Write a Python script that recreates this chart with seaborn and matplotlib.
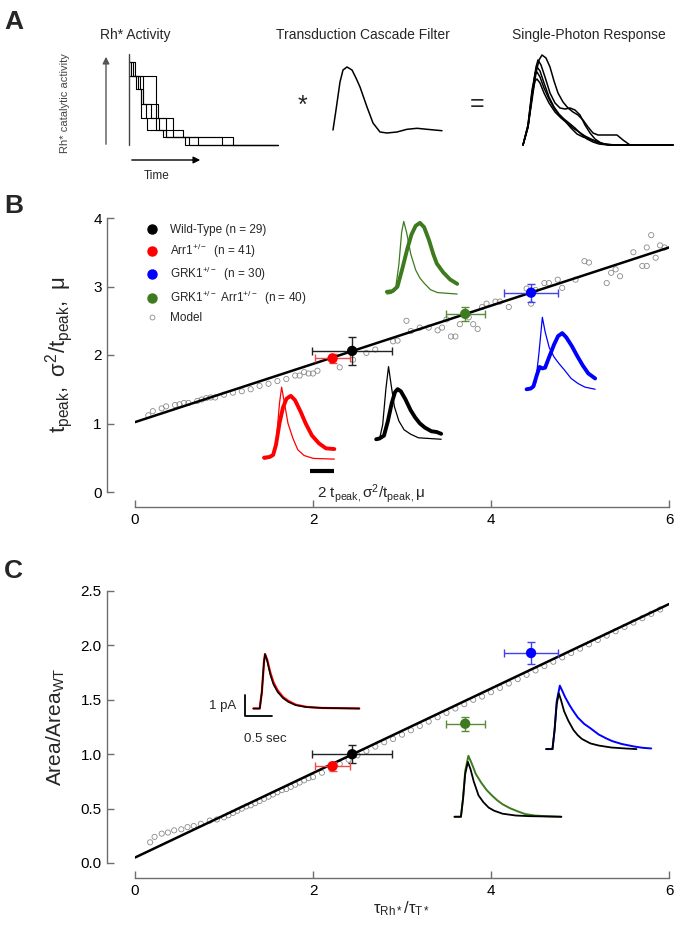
import matplotlib
matplotlib.use('Agg')
import matplotlib.pyplot as plt
from matplotlib.lines import Line2D
import seaborn as sns

sns.set_style('ticks')
plt.rcParams['font.family'] = ['Liberation Sans', 'DejaVu Sans']
plt.rcParams['mathtext.fontset'] = 'custom'
plt.rcParams['mathtext.rm'] = 'Liberation Sans'
plt.rcParams['mathtext.it'] = 'Liberation Sans:italic'
plt.rcParams['mathtext.bf'] = 'Liberation Sans:bold'

# ---------------- data ----------------
group_labels = ['Wild-Type (n = 29)', r'Arr1$^{+/-}$  (n = 41)',
                r'GRK1$^{+/-}$  (n = 30)', r'GRK1$^{+/-}$ Arr1$^{+/-}$  (n = 40)']
group_colors = ['#000000', '#ff0000', '#0000ff', '#3e7a1e']
errbar_colors = ['#222222', '#ee4a4a', '#4040ee', '#5a8a3a']

tau_ratio = [2.44, 2.22, 4.45, 3.71]
tau_ratio_err = [0.45, 0.20, 0.30, 0.22]
tpeak_ratio = [2.06, 1.95, 2.91, 2.60]
tpeak_ratio_err = [0.20, 0.07, 0.13, 0.10]
area_ratio = [1.00, 0.89, 1.93, 1.28]
area_ratio_err = [0.08, 0.04, 0.10, 0.065]

fit_x = [0, 6]
fit_tpeak = [1.02, 3.57]
fit_area = [0.05, 2.38]

model_x_b = [0.15, 0.2, 0.3, 0.35, 0.45, 0.5, 0.55, 0.6, 0.7, 0.75, 0.8, 0.85, 0.9,
             1.0, 1.1, 1.2, 1.3, 1.4, 1.5, 1.6, 1.7, 1.8, 1.85, 1.9, 1.95, 2.0, 2.05,
             2.3, 2.45, 2.6, 2.7, 2.9, 2.95, 3.05, 3.1, 3.2, 3.3, 3.4, 3.45, 3.5, 3.55,
             3.6, 3.65, 3.75, 3.8, 3.85, 3.9, 3.95, 4.05, 4.1, 4.2, 4.4, 4.45, 4.5, 4.6,
             4.65, 4.75, 4.8, 4.95, 5.05, 5.1, 5.3, 5.35, 5.4, 5.45, 5.6, 5.7, 5.75,
             5.75, 5.8, 5.85, 5.9, 5.95]
model_tpeak = [1.12, 1.18, 1.22, 1.25, 1.27, 1.28, 1.30, 1.30, 1.33, 1.35, 1.37, 1.38, 1.38,
               1.42, 1.45, 1.47, 1.50, 1.55, 1.58, 1.62, 1.65, 1.70, 1.70, 1.75, 1.73, 1.73, 1.77,
               1.82, 1.93, 2.03, 2.08, 2.20, 2.21, 2.50, 2.35, 2.40, 2.40, 2.36, 2.40, 2.52, 2.27,
               2.27, 2.45, 2.55, 2.45, 2.38, 2.70, 2.75, 2.78, 2.78, 2.70, 2.97, 2.75, 2.95, 3.05,
               3.05, 3.10, 2.98, 3.10, 3.37, 3.35, 3.05, 3.20, 3.25, 3.15, 3.50, 3.30, 3.57,
               3.30, 3.75, 3.42, 3.60, 3.57]

model_x_c = [0.17, 0.22, 0.30, 0.37, 0.44, 0.52, 0.59, 0.66, 0.74, 0.84, 0.92,
             1.0, 1.05, 1.1, 1.15, 1.2, 1.25, 1.3, 1.35, 1.4, 1.45, 1.5, 1.55, 1.6, 1.65,
             1.7, 1.75, 1.8, 1.85, 1.9, 1.95, 2.0, 2.1, 2.2, 2.3, 2.4, 2.5, 2.6, 2.7, 2.8,
             2.9, 3.0, 3.1, 3.2, 3.3, 3.4, 3.5, 3.6, 3.7, 3.8, 3.9, 4.0, 4.1, 4.2, 4.3,
             4.4, 4.5, 4.6, 4.7, 4.8, 4.9, 5.0, 5.1, 5.2, 5.3, 5.4, 5.5, 5.6, 5.7, 5.8, 5.9]
model_area = [0.19, 0.24, 0.27, 0.28, 0.30, 0.31, 0.33, 0.34, 0.36, 0.39, 0.40,
              0.42, 0.44, 0.46, 0.48, 0.50, 0.52, 0.53, 0.55, 0.57, 0.59, 0.61, 0.63, 0.65, 0.67,
              0.68, 0.70, 0.72, 0.74, 0.76, 0.78, 0.79, 0.83, 0.87, 0.91, 0.95, 0.99, 1.03, 1.07, 1.11,
              1.14, 1.18, 1.22, 1.26, 1.30, 1.34, 1.38, 1.42, 1.46, 1.50, 1.53, 1.57, 1.61, 1.65, 1.69,
              1.73, 1.77, 1.81, 1.85, 1.89, 1.93, 1.97, 2.01, 2.05, 2.09, 2.13, 2.17, 2.21, 2.25, 2.29, 2.33]

# panel B inset traces (time as fraction of window, amplitude relative to fast peak)
wt_thin_t = [0, 0.05, 0.1, 0.15, 0.19, 0.23, 0.28, 0.35, 0.43, 0.53, 0.65, 1.0]
wt_thin = [0, 0.0, 0.2, 0.7, 1.0, 0.75, 0.45, 0.25, 0.13, 0.07, 0.02, 0.0]
wt_thick_t = [0, 0.05, 0.12, 0.18, 0.24, 0.29, 0.33, 0.38, 0.45, 0.53, 0.6, 0.67, 0.75, 0.85, 0.93, 1.0]
wt_thick = [0, 0.01, 0.05, 0.25, 0.5, 0.65, 0.69, 0.66, 0.55, 0.4, 0.3, 0.22, 0.16, 0.11, 0.10, 0.075]

arr_thin_t = [0, 0.06, 0.13, 0.17, 0.22, 0.25, 0.29, 0.34, 0.41, 0.48, 0.57, 0.70, 1.0]
arr_thin = [0, 0.01, 0.04, 0.21, 0.78, 1.0, 0.78, 0.5, 0.29, 0.13, 0.05, 0.01, 0.0]
arr_thick_t = [0, 0.08, 0.13, 0.17, 0.22, 0.27, 0.32, 0.38, 0.44, 0.52, 0.59, 0.68, 0.78, 0.88, 1.0]
arr_thick = [0.02, 0.03, 0.06, 0.2, 0.5, 0.72, 0.84, 0.88, 0.82, 0.66, 0.5, 0.33, 0.22, 0.15, 0.14]

grk_thin_t = [0, 0.08, 0.13, 0.18, 0.23, 0.27, 0.33, 0.4, 0.47, 0.55, 0.65, 0.75, 0.85, 1.0]
grk_thin = [0, 0.01, 0.08, 0.5, 1.0, 0.8, 0.58, 0.45, 0.36, 0.27, 0.15, 0.08, 0.03, 0.0]
grk_thick_t = [0, 0.06, 0.1, 0.15, 0.19, 0.23, 0.27, 0.33, 0.4, 0.46, 0.52, 0.58, 0.66, 0.74, 0.82, 0.9, 1.0]
grk_thick = [0, 0.01, 0.04, 0.2, 0.31, 0.29, 0.3, 0.45, 0.62, 0.74, 0.78, 0.72, 0.6, 0.46, 0.33, 0.22, 0.15]

dbl_thin_t = [0, 0.06, 0.12, 0.17, 0.21, 0.24, 0.28, 0.34, 0.41, 0.47, 0.53, 0.62, 0.72, 1.0]
dbl_thin = [0, 0.01, 0.05, 0.4, 0.85, 1.0, 0.85, 0.55, 0.33, 0.22, 0.15, 0.06, 0.02, 0.0]
dbl_thick_t = [0, 0.08, 0.15, 0.22, 0.29, 0.35, 0.41, 0.47, 0.53, 0.6, 0.66, 0.71, 0.8, 0.9, 1.0]
dbl_thick = [0.03, 0.04, 0.1, 0.35, 0.62, 0.82, 0.94, 0.98, 0.92, 0.74, 0.55, 0.42, 0.3, 0.2, 0.14]

# panel C inset traces (mean responses, amplitude relative to larger peak)
c_wt_a_t = [0, 0.06, 0.08, 0.1, 0.11, 0.13, 0.16, 0.19, 0.23, 0.28, 0.33, 0.4, 0.5, 0.65, 1.0]
c_wt_a = [0, 0.0, 0.3, 0.85, 1.0, 0.88, 0.62, 0.44, 0.3, 0.19, 0.12, 0.06, 0.025, 0.01, 0.0]
c_arr_t = [0, 0.06, 0.08, 0.1, 0.11, 0.13, 0.16, 0.19, 0.23, 0.28, 0.33, 0.4, 0.5, 0.65, 1.0]
c_arr = [0, 0.0, 0.3, 0.85, 1.0, 0.9, 0.66, 0.48, 0.33, 0.21, 0.14, 0.07, 0.03, 0.01, 0.0]
c_wt_b_t = [0, 0.06, 0.08, 0.1, 0.12, 0.14, 0.17, 0.21, 0.26, 0.3, 0.34, 0.42, 0.5, 0.62, 0.75, 0.86]
c_wt_b = [0, 0.0, 0.3, 0.7, 0.88, 0.78, 0.6, 0.45, 0.3, 0.22, 0.16, 0.09, 0.056, 0.025, 0.01, 0.0]
c_grk_t = [0, 0.06, 0.08, 0.1, 0.13, 0.15, 0.18, 0.22, 0.25, 0.3, 0.36, 0.42, 0.5, 0.57, 0.63, 0.72, 0.84, 0.92, 1.0]
c_grk = [0, 0.0, 0.3, 0.75, 1.0, 0.93, 0.82, 0.7, 0.62, 0.5, 0.4, 0.33, 0.23, 0.17, 0.125, 0.08, 0.04, 0.02, 0.01]
c_wt_c_t = [0, 0.06, 0.08, 0.1, 0.125, 0.15, 0.18, 0.225, 0.27, 0.32, 0.37, 0.45, 0.575, 0.7, 1.0]
c_wt_c = [0, 0.0, 0.3, 0.7, 0.9, 0.78, 0.58, 0.35, 0.24, 0.15, 0.1, 0.05, 0.02, 0.01, 0.0]
c_dbl_t = [0, 0.06, 0.08, 0.1, 0.13, 0.16, 0.2, 0.25, 0.3, 0.35, 0.4, 0.45, 0.52, 0.59, 0.66, 0.75, 0.85, 1.0]
c_dbl = [0, 0.0, 0.3, 0.75, 1.0, 0.88, 0.7, 0.56, 0.44, 0.35, 0.27, 0.205, 0.14, 0.09, 0.045, 0.02, 0.01, 0.0]

# panel A: Rh* activity step traces (time, activity level)
rh_t1 = [0, 4, 14, 17, 27, 44, 104, 149]
rh_a1 = [1.0, 0.83, 0.5, 0.33, 0.18, 0.1, 0, 0]
rh_t2 = [0, 2, 11, 14, 22, 30, 37, 56, 149]
rh_a2 = [1.0, 0.83, 0.68, 0.5, 0.33, 0.18, 0.1, 0, 0]
rh_t3 = [0, 7, 12, 18, 34, 93, 149]
rh_a3 = [0.83, 0.68, 0.33, 0.18, 0.1, 0, 0]
rh_t4 = [0, 6, 27, 29, 44, 54, 60, 149]
rh_a4 = [1.0, 0.83, 0.5, 0.33, 0.18, 0.1, 0, 0]
rh_t5 = [0, 9, 12, 27, 37, 69, 149]
rh_a5 = [0.83, 0.68, 0.5, 0.33, 0.1, 0, 0]

filter_t = [0, 3, 7, 10, 14, 19, 23, 27, 34, 40, 47, 54, 64, 74, 84, 94, 109]
filter_y = [0, 20, 48, 60, 63, 60, 52, 43, 23, 7, -2, -3, -2, 0.7, 1.7, 0.7, -0.7]

spr_t1 = [0, 5, 9, 13, 16, 19, 23, 27, 31, 35, 40, 45, 50, 55, 60, 65, 70, 75, 85, 94, 100, 107, 150]
spr_a1 = [0, 18, 45, 72, 85, 90, 87, 78, 64, 52, 43, 37, 33, 30, 25, 18, 12, 10, 10, 10, 5, 0, 0]
spr_t2 = [0, 5, 9, 13, 15, 18, 22, 27, 32, 37, 42, 47, 52, 57, 62, 67, 72, 78, 85, 150]
spr_a2 = [0, 18, 48, 78, 85, 80, 68, 52, 42, 37, 36, 37, 35, 30, 20, 12, 6, 2, 0, 0]
spr_t3 = [0, 5, 9, 12, 14, 17, 21, 26, 31, 36, 41, 46, 52, 58, 64, 70, 76, 85, 150]
spr_a3 = [0, 18, 50, 72, 78, 74, 62, 48, 38, 31, 26, 22, 17, 11, 6, 3, 1, 0, 0]
spr_t4 = [0, 5, 9, 12, 14, 17, 21, 26, 31, 36, 42, 48, 54, 60, 66, 72, 80, 90, 150]
spr_a4 = [0, 20, 55, 70, 73, 68, 57, 46, 37, 30, 24, 17, 11, 8, 6, 4, 1, 0, 0]
spr_t5 = [0, 5, 9, 12, 14, 17, 21, 26, 32, 38, 44, 50, 56, 62, 68, 74, 82, 92, 150]
spr_a5 = [0, 20, 52, 64, 66, 62, 52, 42, 33, 27, 22, 17, 13, 9, 6, 3, 1, 0, 0]

# ---------------- layout helpers ----------------
W, H = 683, 932
fig = plt.figure(figsize=(W / 100, H / 100), dpi=100)


def box(left, top, right, bottom):
    return [left / W, 1 - bottom / H, (right - left) / W, (bottom - top) / H]


def fpt(x, y):
    return (x / W, 1 - y / H)


GRAY = '#6e6e6e'


def style_axes(ax, ytop, ylab_x):
    sns.despine(ax=ax)
    ax.spines['left'].set_position(('outward', 20))
    ax.spines['bottom'].set_position(('outward', 11))
    ax.spines['left'].set_bounds(0, ytop)
    ax.spines['bottom'].set_bounds(0, 6)
    for s in ('left', 'bottom'):
        ax.spines[s].set_color(GRAY)
        ax.spines[s].set_linewidth(1.0)
    ax.tick_params(direction='in', length=5, width=1, color=GRAY,
                   labelsize=11, pad=4, labelcolor='black')
    ax.set_xlim(0, 6)
    ax.set_xticks([0, 2, 4, 6])
    ax.patch.set_alpha(0)
    ax.yaxis.set_label_coords(ylab_x, 0.5)


def inset(ax, rect, traces):
    iax = ax.inset_axes(rect, transform=ax.transData)
    iax.set_xlim(0, 1)
    iax.set_ylim(0, 1)
    iax.axis('off')
    for t, a, color, lw in traces:
        sns.lineplot(x=t, y=a, ax=iax, color=color, lw=lw, sort=False,
                     estimator=None, solid_capstyle='round')
    for ln in iax.lines:
        ln.set_clip_on(False)


def group_points(ax, yvals, yerrs):
    for i in range(4):
        ax.errorbar(tau_ratio[i], yvals[i], xerr=tau_ratio_err[i], yerr=yerrs[i],
                    fmt='none', ecolor=errbar_colors[i], elinewidth=1.0,
                    capsize=3, capthick=1.0, zorder=4)
    sns.scatterplot(x=tau_ratio, y=yvals, hue=group_labels, palette=group_colors,
                    s=55, edgecolor='none', legend=False, ax=ax, zorder=5)


# ---------------- panel A ----------------
fig.text(*fpt(4, 22), 'A', fontsize=19, fontweight='bold', va='center')
fig.text(*fpt(135, 35), 'Rh* Activity', fontsize=10, ha='center', va='center')
fig.text(*fpt(363, 35), 'Transduction Cascade Filter', fontsize=10, ha='center', va='center')
fig.text(*fpt(589, 35), 'Single-Photon Response', fontsize=10, ha='center', va='center')
fig.text(*fpt(65, 103), 'Rh* catalytic activity', fontsize=8, rotation=90,
         ha='center', va='center', color='#444444')
fig.text(*fpt(157, 176), 'Time', fontsize=8.5, ha='center', va='center')
fig.text(*fpt(302, 106), '*', fontsize=18, ha='center', va='center')
fig.text(*fpt(477, 104), '=', fontsize=18, ha='center', va='center')
fig.patches.append(matplotlib.patches.FancyArrowPatch(
    fpt(106, 147), fpt(106, 54), transform=fig.transFigure, arrowstyle='-|>',
    mutation_scale=10, color='#555555', lw=1.0))
fig.patches.append(matplotlib.patches.FancyArrowPatch(
    fpt(129, 160), fpt(203, 160), transform=fig.transFigure, arrowstyle='-|>',
    mutation_scale=10, color='black', lw=1.0))

ax_rh = fig.add_axes(box(129, 62, 278, 145))
for t, a in [(rh_t1, rh_a1), (rh_t2, rh_a2), (rh_t3, rh_a3), (rh_t4, rh_a4), (rh_t5, rh_a5)]:
    ax_rh.step(t, a, where='post', color='black', lw=0.8, clip_on=False)
ax_rh.axvline(0, 0, 1.1, color='#444444', lw=1.0, clip_on=False)
ax_rh.set_xlim(0, 149)
ax_rh.set_ylim(0, 1.0)
ax_rh.axis('off')

ax_f = fig.add_axes(box(333, 60, 442, 140))
sns.lineplot(x=filter_t, y=filter_y, ax=ax_f, color='black', lw=1.1, sort=False, estimator=None)
ax_f.set_xlim(0, 109)
ax_f.set_ylim(-10, 70)
ax_f.axis('off')

ax_s = fig.add_axes(box(523, 50, 673, 145))
for t, a in [(spr_t1, spr_a1), (spr_t2, spr_a2), (spr_t3, spr_a3), (spr_t4, spr_a4), (spr_t5, spr_a5)]:
    sns.lineplot(x=t, y=a, ax=ax_s, color='black', lw=1.1, sort=False, estimator=None)
ax_s.set_xlim(0, 150)
ax_s.set_ylim(0, 95)
ax_s.axis('off')
for ln in ax_s.lines + ax_f.lines:
    ln.set_clip_on(False)

# ---------------- panel B ----------------
fig.text(*fpt(4, 206), 'B', fontsize=19, fontweight='bold', va='center')
axb = fig.add_axes(box(135, 218, 669, 492))
sns.scatterplot(x=model_x_b, y=model_tpeak, ax=axb, marker='o', s=14,
                facecolor='none', edgecolor='#8a8a8a', linewidth=0.6, zorder=2)
sns.lineplot(x=fit_x, y=fit_tpeak, ax=axb, color='black', lw=1.8, zorder=3)
group_points(axb, tpeak_ratio, tpeak_ratio_err)
axb.set_ylim(0, 4)
axb.set_yticks([0, 1, 2, 3, 4])
style_axes(axb, 4, -0.112)
axb.set_ylabel(r'$\mathregular{t_{peak},\ \sigma^{2}/t_{peak},\ \mu}$', fontsize=16)

inset(axb, [1.45, 0.48, 0.79, 1.05], [(arr_thin_t, arr_thin, '#ff0000', 0.9),
                                      (arr_thick_t, arr_thick, '#ff0000', 2.8)])
inset(axb, [2.71, 0.77, 0.73, 1.06], [(wt_thin_t, wt_thin, 'black', 0.9),
                                      (wt_thick_t, wt_thick, 'black', 2.8)])
inset(axb, [4.40, 1.50, 0.77, 1.05], [(grk_thin_t, grk_thin, '#0000ff', 0.9),
                                      (grk_thick_t, grk_thick, '#0000ff', 2.8)])
inset(axb, [2.83, 2.89, 0.79, 1.06], [(dbl_thin_t, dbl_thin, '#3e7a1e', 0.9),
                                      (dbl_thick_t, dbl_thick, '#3e7a1e', 2.8)])
axb.hlines(0.30, 1.97, 2.24, color='black', lw=3)
axb.text(2.04, -0.02, r'$\mathregular{2\ t_{peak,}\sigma^{2}/t_{peak,}\mu}$', fontsize=11,
         ha='left', va='center')

handles = [Line2D([], [], ls='', marker='o', color=c, markersize=6.5) for c in group_colors]
handles.append(Line2D([], [], ls='', marker='o', mfc='none', mec='#8a8a8a', mew=0.6, markersize=3.5))
axb.legend(handles, group_labels + ['Model'], loc='upper left', bbox_to_anchor=(0.015, 0.99),
           frameon=False, fontsize=8.5, handlelength=1.0, handletextpad=1.0,
           labelspacing=0.45, borderaxespad=0, borderpad=0.3)

# ---------------- panel C ----------------
fig.text(*fpt(4, 571), 'C', fontsize=19, fontweight='bold', va='center')
axc = fig.add_axes(box(135, 591, 669, 863))
sns.scatterplot(x=model_x_c, y=model_area, ax=axc, marker='o', s=14,
                facecolor='none', edgecolor='#8a8a8a', linewidth=0.6, zorder=2)
sns.lineplot(x=fit_x, y=fit_area, ax=axc, color='black', lw=1.8, zorder=3)
group_points(axc, area_ratio, area_ratio_err)
axc.set_ylim(0, 2.5)
axc.set_yticks([0, 0.5, 1.0, 1.5, 2.0, 2.5])
axc.set_yticklabels(['0.0', '0.5', '1.0', '1.5', '2.0', '2.5'])
style_axes(axc, 2.5, -0.128)
axc.set_ylabel(r'$\mathregular{Area/Area_{WT}}$', fontsize=15)
axc.set_xlabel(r'$\mathregular{\tau_{Rh*}/\tau_{T*}}$', fontsize=12)
axc.xaxis.set_label_coords(0.5, -0.135)

inset(axc, [1.33, 1.42, 1.19, 0.50], [(c_arr_t, c_arr, '#ff0000', 1.6),
                                      (c_wt_a_t, c_wt_a, 'black', 1.1)])
inset(axc, [4.62, 1.047, 1.18, 0.583], [(c_grk_t, c_grk, '#0000ff', 1.4),
                                        (c_wt_b_t, c_wt_b, 'black', 1.3)])
inset(axc, [3.59, 0.425, 1.20, 0.56], [(c_dbl_t, c_dbl, '#3e7a1e', 1.4),
                                       (c_wt_c_t, c_wt_c, 'black', 1.3)])
axc.plot([1.24, 1.24, 1.54], [1.545, 1.35, 1.35], color='black', lw=1.3)
axc.text(1.14, 1.44, '1 pA', fontsize=9.5, ha='right', va='center')
axc.text(1.22, 1.14, '0.5 sec', fontsize=9.5, ha='left', va='center')

fig.savefig('out.png', dpi=100)
